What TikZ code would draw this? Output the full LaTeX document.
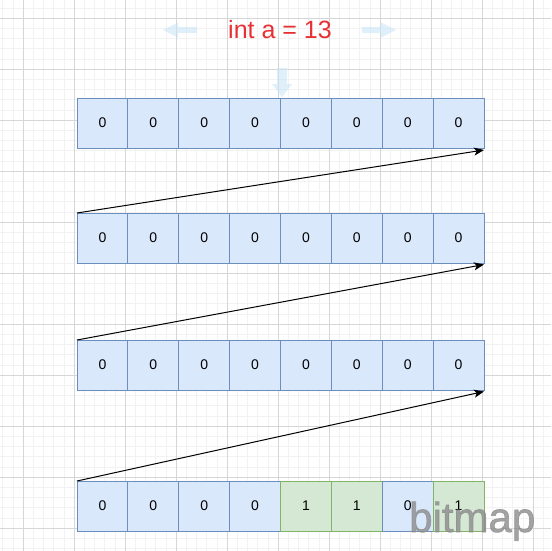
\documentclass[tikz,border=0pt]{standalone}
\usepackage{fontspec}
\setmainfont{Liberation Sans}
\usetikzlibrary{arrows.meta}
\definecolor{gmajor}{RGB}{214,214,214}
\definecolor{gminor}{RGB}{242,242,242}
\definecolor{bfill}{HTML}{DAE8FC}
\definecolor{bline}{HTML}{6C8EBF}
\definecolor{gfill}{HTML}{D5E8D4}
\definecolor{gline}{HTML}{82B366}
\definecolor{titlered}{RGB}{232,48,52}
\definecolor{hintblue}{RGB}{200,228,246}
\tikzset{
  cell/.style={draw=bline,fill=bfill,line width=1pt,minimum width=50.875pt,minimum height=50pt,inner sep=0pt,outer sep=0pt,font=\fontsize{14}{14}\selectfont},
  onecell/.style={cell,draw=gline,fill=gfill},
  link/.style={draw=black,line width=1pt,-{Stealth[length=10pt,width=8pt,inset=2.5pt]}},
  hint/.style={fill=hintblue,draw=none,opacity=0.55}
}
\begin{document}
\begin{tikzpicture}[x=1pt,y=-1pt]
\useasboundingbox (0,0) rectangle (551,551);
\fill[white] (0,0) rectangle (551,551);
% grid
\foreach \i in {-3,...,54} {
  \draw[gminor,line width=0.5pt] ({23+10.2*\i},0) -- ({23+10.2*\i},551);
  \draw[gminor,line width=0.5pt] (0,{18+10.2*\i}) -- (551,{18+10.2*\i});
}
\foreach \i in {-1,...,10} {
  \draw[gmajor,line width=0.8pt] ({23+51*\i},0) -- ({23+51*\i},551);
  \draw[gmajor,line width=0.8pt] (0,{18+51*\i}) -- (551,{18+51*\i});
}
% faded hint arrows
\fill[hint] (163,30) -- (178,22.5) -- (178,27) -- (197,27) -- (197,33) -- (178,33) -- (178,37.5) -- cycle;
\fill[hint] (396,30) -- (381,22.5) -- (381,27) -- (362,27) -- (362,33) -- (381,33) -- (381,37.5) -- cycle;
\fill[hint] (282,97) -- (272,84) -- (277,84) -- (277,68) -- (287,68) -- (287,84) -- (292,84) -- cycle;
% title
\node[anchor=base,text=titlered,inner sep=0pt,font=\fontsize{25}{25}\selectfont] (title) at (280,39) {int a = 13};
% rows
\foreach \r/\y in {1/123,2/238,3/365} {
  \foreach \k in {1,...,8} {
    \node[cell] (c\r-\k) at ({77+50.875*(\k-0.5)},\y) {0};
  }
}
\node[cell] (c4-1) at ({77+50.875*0.5},506) {0};
\node[cell] (c4-2) at ({77+50.875*1.5},506) {0};
\node[cell] (c4-3) at ({77+50.875*2.5},506) {0};
\node[cell] (c4-4) at ({77+50.875*3.5},506) {0};
\node[onecell] (c4-5) at ({77+50.875*4.5},506) {1};
\node[onecell] (c4-6) at ({77+50.875*5.5},506) {1};
\node[cell] (c4-7) at ({77+50.875*6.5},506) {0};
\node[onecell] (c4-8) at ({77+50.875*7.5},506) {1};
% connectors
\draw[link] (c2-1.north west) -- ([yshift=-2pt]c1-8.south east);
\draw[link] (c3-1.north west) -- ([yshift=-1.5pt]c2-8.south east);
\draw[link] (c4-1.north west) -- ([yshift=-1.5pt]c3-8.south east);
% watermark
\node[anchor=base west,inner sep=0pt,text=black!45,opacity=0.8,font=\fontsize{42}{42}\selectfont\addfontfeature{FakeBold=1.5}] (wm) at (409,532) {bitmap};
\end{tikzpicture}
\end{document}
